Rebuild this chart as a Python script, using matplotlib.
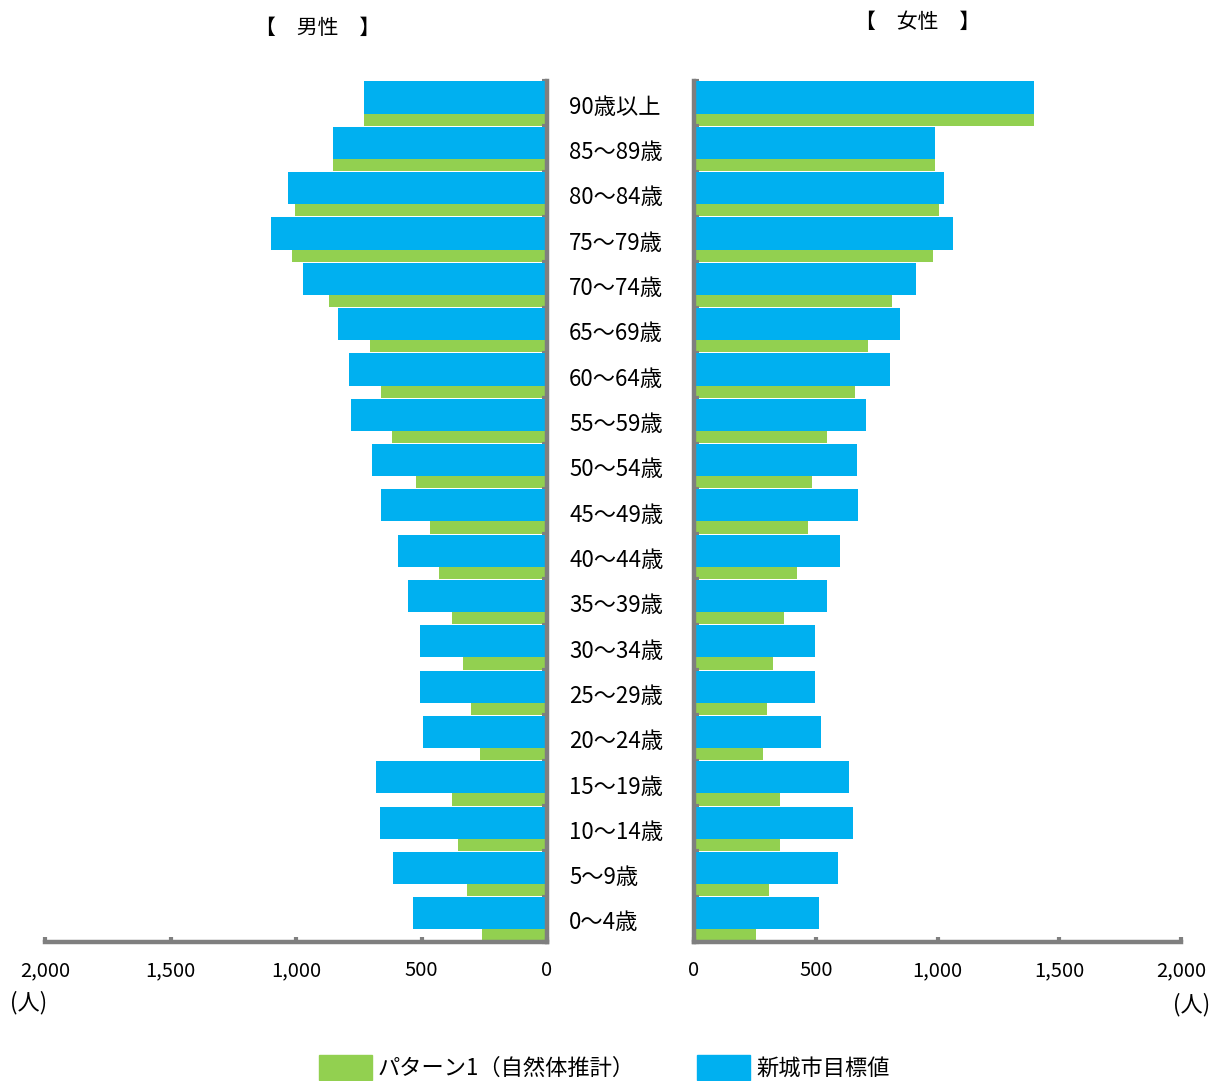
import matplotlib
matplotlib.use("Agg")
import matplotlib.pyplot as plt
import matplotlib.transforms as mtransforms
from matplotlib.patches import Rectangle
import numpy as np

plt.rcParams['font.family'] = ['Noto Sans CJK JP', 'DejaVu Sans']

# Age groups, youngest first
ages = ["0～4歳", "5～9歳", "10～14歳", "15～19歳", "20～24歳", "25～29歳",
        "30～34歳", "35～39歳", "40～44歳", "45～49歳", "50～54歳", "55～59歳",
        "60～64歳", "65～69歳", "70～74歳", "75～79歳", "80～84歳", "85～89歳",
        "90歳以上"]

# Population (persons)
male_target = [533, 615, 666, 682, 496, 505, 505, 555, 593, 661, 698, 780,
               787, 832, 972, 1100, 1033, 853, 730]
male_pattern1 = [259, 319, 355, 379, 267, 304, 334, 379, 431, 466, 520, 617,
                 662, 706, 868, 1017, 1005, 853, 730]
female_target = [515, 591, 653, 638, 522, 498, 498, 545, 600, 675, 668, 706,
                 806, 845, 913, 1064, 1027, 990, 1396]
female_pattern1 = [255, 308, 354, 354, 285, 301, 323, 370, 423, 468, 485, 545,
                   660, 716, 813, 983, 1006, 990, 1396]

x_ticks = [0, 500, 1000, 1500, 2000]
x_tick_labels = [f"{v:,}" for v in x_ticks]

series_names = ["パターン1（自然体推計）", "新城市目標値"]
GREEN = "#92D050"
BLUE = "#00B0F0"
AXIS_GRAY = "#7F7F7F"

W, H = 1217, 1081
fig = plt.figure(figsize=(W / 100, H / 100), dpi=100)


def fx(px):
    return px / W


def fy(py):
    return 1 - py / H


top_px, bot_px = 81, 942
ax_m = fig.add_axes([fx(45), fy(bot_px), fx(547 - 45), (bot_px - top_px) / H])
ax_f = fig.add_axes([fx(694), fy(bot_px), fx(1181 - 694), (bot_px - top_px) / H])

y = np.arange(len(ages))
bar_h = 0.71
shift = 0.5 - 0.01 - bar_h / 2


def draw_panel(ax, target, pattern1):
    ax.barh(y - shift, pattern1, height=bar_h, color=GREEN, zorder=1)
    ax.barh(y + shift, target, height=bar_h, color=BLUE, zorder=2)
    ax.set_ylim(-0.5, len(ages) - 0.5)
    ax.set_yticks(np.arange(-0.5, len(ages), 1.0))
    ax.set_yticklabels([])
    ax.set_xticks(x_ticks)
    ax.set_xticklabels(x_tick_labels, fontsize=14.5)
    ax.tick_params(axis="both", direction="in", length=3.5, width=3,
                   color=AXIS_GRAY)
    ax.tick_params(axis="x", pad=13)
    for s in ax.spines.values():
        s.set_color(AXIS_GRAY)
        s.set_linewidth(3.2)
    ax.spines["top"].set_visible(False)
    ax.patch.set_alpha(0)


draw_panel(ax_m, male_target, male_pattern1)
ax_m.set_xlim(2000, 0)
ax_m.spines["left"].set_visible(False)
ax_m.yaxis.tick_right()

draw_panel(ax_f, female_target, female_pattern1)
ax_f.set_xlim(0, 2000)
ax_f.spines["right"].set_visible(False)
ax_f.yaxis.tick_left()

# Age labels between the two panels
trans = mtransforms.blended_transform_factory(fig.transFigure, ax_m.transData)
for yi, lab in zip(y, ages):
    ax_m.text(fx(569), yi - 0.08, lab, transform=trans, ha="left", va="center",
              fontsize=16, clip_on=False)

# Panel titles
fig.text(fx(318), fy(28), "【　男性　】", ha="center", va="center", fontsize=15)
fig.text(fx(918), fy(22), "【　女性　】", ha="center", va="center", fontsize=15)

# Unit labels
fig.text(fx(29), fy(1003), "(人)", ha="center", va="center", fontsize=16)
fig.text(fx(1192), fy(1005), "(人)", ha="center", va="center", fontsize=16)

# Legend
for (x0, color, name) in [(319, GREEN, series_names[0]), (697, BLUE, series_names[1])]:
    fig.patches.append(Rectangle((fx(x0), fy(1080)), fx(53), 25 / H,
                                 transform=fig.transFigure, color=color))
    fig.text(fx(x0 + 59), fy(1068), name, ha="left", va="center", fontsize=16)

fig.savefig("out.png", dpi=100)
